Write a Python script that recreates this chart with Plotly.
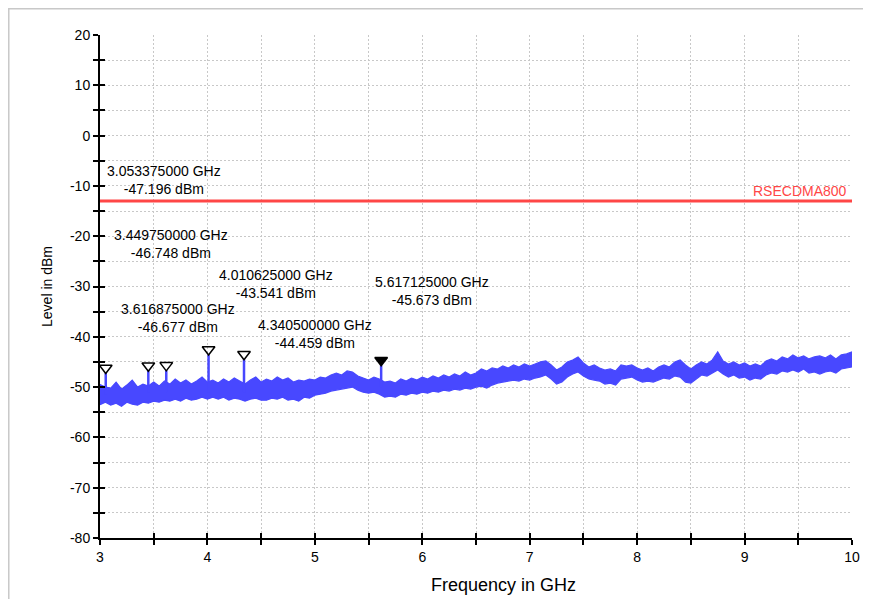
import numpy as np
import plotly.graph_objects as go

# sweep grid (analyser trace, 50 MHz resolution of the read-off)
F_START: float = 3.0
F_STEP: float = 0.05
N_POINTS: int = 141

# noise band, upper / lower edge in dBm, one row per 0.5 GHz
level_hi: list[float] = [
    -49.5, -50.0, -50.2, -49.0, -50.4, -49.6, -48.6, -50.0, -49.4, -49.8,
    -49.0, -49.8, -48.8, -49.4, -48.4, -49.2, -48.6, -49.4, -48.8, -48.0,
    -49.0, -48.6, -49.2, -48.4, -49.0, -48.2, -48.8, -49.4, -48.6, -48.0,
    -49.0, -48.4, -48.8, -48.0, -48.6, -48.2, -49.0, -48.6, -48.8, -48.4,
    -48.6, -48.0, -48.2, -47.6, -47.2, -47.6, -46.8, -47.0, -47.8, -48.2,
    -48.6, -48.0, -48.4, -49.0, -48.8, -49.2, -48.4, -48.8, -48.2, -48.6,
    -48.0, -48.4, -47.8, -48.2, -47.6, -48.0, -47.4, -47.8, -47.0, -47.6,
    -47.2, -46.4, -46.8, -46.2, -46.4, -45.8, -46.2, -45.6, -46.0, -45.4,
    -45.8, -45.4, -45.0, -44.8, -45.6, -46.6, -46.0, -45.0, -44.6, -44.0,
    -45.2, -46.0, -45.6, -46.2, -46.6, -46.4, -46.8, -45.6, -45.8, -45.6,
    -46.2, -46.6, -46.2, -46.8, -46.0, -45.6, -46.0, -45.0, -44.6, -45.6,
    -46.4, -45.6, -45.0, -45.4, -44.6, -43.0, -44.8, -45.4, -45.0, -45.6,
    -45.2, -45.8, -45.4, -45.8, -44.8, -44.4, -44.8, -44.0, -44.4, -43.6,
    -44.2, -43.8, -44.4, -44.0, -43.8, -44.2, -43.6, -44.4, -43.6, -43.4,
    -43.0,
]
level_lo: list[float] = [
    -53.5, -53.0, -53.6, -53.2, -53.8, -53.0, -53.4, -53.6, -53.0, -53.2,
    -52.8, -53.0, -52.6, -52.8, -52.4, -52.8, -52.2, -52.6, -52.4, -52.0,
    -52.4, -52.0, -52.4, -52.0, -52.6, -52.2, -52.4, -52.8, -52.4, -52.2,
    -52.6, -52.6, -52.2, -52.4, -52.0, -52.6, -52.4, -52.8, -52.0, -52.2,
    -51.6, -51.4, -51.2, -50.8, -50.6, -50.4, -50.2, -50.0, -50.6, -51.0,
    -51.2, -51.0, -51.4, -52.0, -51.8, -52.0, -51.4, -51.6, -51.2, -51.4,
    -51.0, -51.2, -50.8, -51.0, -50.6, -50.8, -50.4, -50.6, -50.2, -50.4,
    -50.0, -49.8, -50.2, -49.6, -49.2, -49.0, -48.8, -48.6, -48.8, -48.4,
    -48.6, -48.2, -48.0, -47.6, -48.4, -49.4, -49.0, -48.0, -47.4, -47.0,
    -47.8, -48.4, -48.6, -48.8, -49.4, -49.2, -49.6, -48.4, -48.2, -48.0,
    -48.6, -49.0, -48.8, -49.0, -48.6, -48.2, -48.4, -47.8, -48.0, -49.0,
    -49.2, -48.4, -47.6, -47.8, -47.2, -46.6, -47.4, -48.0, -47.6, -48.2,
    -48.0, -48.6, -48.2, -48.4, -47.6, -47.2, -47.4, -46.8, -47.0, -46.6,
    -47.0, -46.4, -47.2, -47.0, -47.4, -47.0, -46.8, -47.2, -46.4, -46.2,
    -46.0,
]

# peak markers
marker_freq: list[float] = [3.053375, 3.44975, 3.616875, 4.010625, 4.3405, 5.617125]
marker_level: list[float] = [-47.196, -46.748, -46.677, -43.541, -44.459, -45.673]
spike_base: list[float] = [-51.5, -51.0, -51.0, -51.0, -51.0, -50.0]
marker_active: list[bool] = [False, False, False, False, False, True]

# limit line
limit_name: str = "RSECDMA800"
limit_freq: list[float] = [3.0, 10.0]
limit_level: list[float] = [-13.0, -13.0]

# axes
x_ticks: list[float] = [3, 3.5, 4, 4.5, 5, 5.5, 6, 6.5, 7, 7.5, 8, 8.5, 9, 9.5, 10]
y_ticks: list[float] = [-80, -75, -70, -65, -60, -55, -50, -45, -40, -35, -30,
                        -25, -20, -15, -10, -5, 0, 5, 10, 15, 20]

# --- styling / layout ---
TRACE_BLUE = "#4848ff"
LIMIT_RED = "#ff4646"
GRID_GREY = "#c8c8c8"
FONT = "Liberation Sans, Arial, sans-serif"
MARKER_LIFT = 1.0  # dB, so the triangle tip sits on the peak

# label centres (data coordinates) for each marker readout
label_pos: list[tuple[float, float]] = [
    (3.596, -8.9), (3.661, -21.6), (3.726, -36.3),
    (4.639, -29.5), (5.002, -39.5), (6.091, -30.8),
]


def _tick_text(vals: list[float], step: float) -> list[str]:
    return [f"{v:g}" if abs(v / step - round(v / step)) < 1e-9 else "" for v in vals]


freq = np.round(F_START + F_STEP * np.arange(N_POINTS), 3)

fig = go.Figure()

# noise band of the trace
fig.add_trace(go.Scatter(
    x=list(freq) + list(freq[::-1]),
    y=level_hi + level_lo[::-1],
    fill="toself", fillcolor=TRACE_BLUE,
    mode="lines", line=dict(color=TRACE_BLUE, width=1.2),
    hoverinfo="skip", showlegend=False,
))

# spikes at the marker frequencies
sx: list = []
sy: list = []
for f, lv, b in zip(marker_freq, marker_level, spike_base):
    sx += [f, f, None]
    sy += [b, lv, None]
fig.add_trace(go.Scatter(
    x=sx, y=sy, mode="lines",
    line=dict(color=TRACE_BLUE, width=2.5),
    hoverinfo="skip", showlegend=False,
))

# limit line
fig.add_trace(go.Scatter(
    x=limit_freq, y=limit_level, mode="lines",
    line=dict(color=LIMIT_RED, width=3),
    name=limit_name, showlegend=False,
))

# marker triangles
fig.add_trace(go.Scatter(
    x=marker_freq,
    y=[lv + MARKER_LIFT for lv in marker_level],
    mode="markers",
    marker=dict(
        symbol=["triangle-down" if a else "triangle-down-open" for a in marker_active],
        size=11, color="black", line=dict(color="black", width=1.5),
    ),
    hoverinfo="skip", showlegend=False,
))

# overlay axes to get ticks crossing the axis lines
fig.add_trace(go.Scatter(x=[None], y=[None], xaxis="x2", yaxis="y2",
                         showlegend=False, hoverinfo="skip"))

annotations = []
for (ax, ay), f, lv in zip(label_pos, marker_freq, marker_level):
    annotations.append(dict(
        x=ax, y=ay, xref="x", yref="y",
        text=f"{f:.9f} GHz<br>{lv:.3f} dBm",
        showarrow=False, xanchor="center", yanchor="middle",
        font=dict(family=FONT, size=14, color="black"),
    ))
annotations.append(dict(
    x=limit_freq[-1], y=limit_level[-1], xref="x", yref="y",
    text=limit_name, showarrow=False, xanchor="right", yanchor="bottom",
    xshift=-3, yshift=0,
    font=dict(family=FONT, size=14, color=LIMIT_RED),
))
# x axis title, placed like the analyser export (right of centre)
annotations.append(dict(
    x=0.537, y=-0.094, xref="paper", yref="paper",
    text="Frequency in GHz", showarrow=False,
    xanchor="center", yanchor="middle",
    font=dict(family=FONT, size=18, color="black"),
))

axis_common = dict(
    showline=True, linecolor="black", linewidth=2,
    ticks="outside", ticklen=5, tickwidth=1.5, tickcolor="black",
    showgrid=True, gridcolor=GRID_GREY, griddash="2px,2px", gridwidth=1,
    zeroline=False, tickfont=dict(family=FONT, size=14, color="black"),
)

fig.update_layout(
    width=863, height=591,
    margin=dict(l=92, r=19, t=27, b=61),
    paper_bgcolor="white", plot_bgcolor="white",
    font=dict(family=FONT, color="black"),
    annotations=annotations,
    xaxis=dict(
        range=[3, 10], tickmode="array", tickvals=x_ticks,
        ticktext=_tick_text(x_ticks, 1), **axis_common,
    ),
    yaxis=dict(
        range=[-80, 20], tickmode="array", tickvals=y_ticks,
        ticktext=_tick_text(y_ticks, 10), **axis_common,
        title=dict(text="Level in dBm", font=dict(family=FONT, size=14),
                   standoff=14),
    ),
    xaxis2=dict(
        range=[3, 10], overlaying="x", anchor="y2", side="bottom",
        tickmode="array", tickvals=x_ticks, ticks="inside", ticklen=5,
        tickwidth=1.5, tickcolor="black", showticklabels=False,
        showgrid=False, zeroline=False, showline=False,
    ),
    yaxis2=dict(
        range=[-80, 20], overlaying="y", anchor="x2", side="left",
        tickmode="array", tickvals=y_ticks, ticks="inside", ticklen=5,
        tickwidth=1.5, tickcolor="black", showticklabels=False,
        showgrid=False, zeroline=False, showline=False,
    ),
    shapes=[dict(
        type="rect", xref="paper", yref="paper",
        x0=-0.1213, x1=1.0186, y0=-0.2, y1=1.0522,
        line=dict(color="#c8c8c8", width=1.5), layer="below",
    )],
)

fig.write_html("out.html")
